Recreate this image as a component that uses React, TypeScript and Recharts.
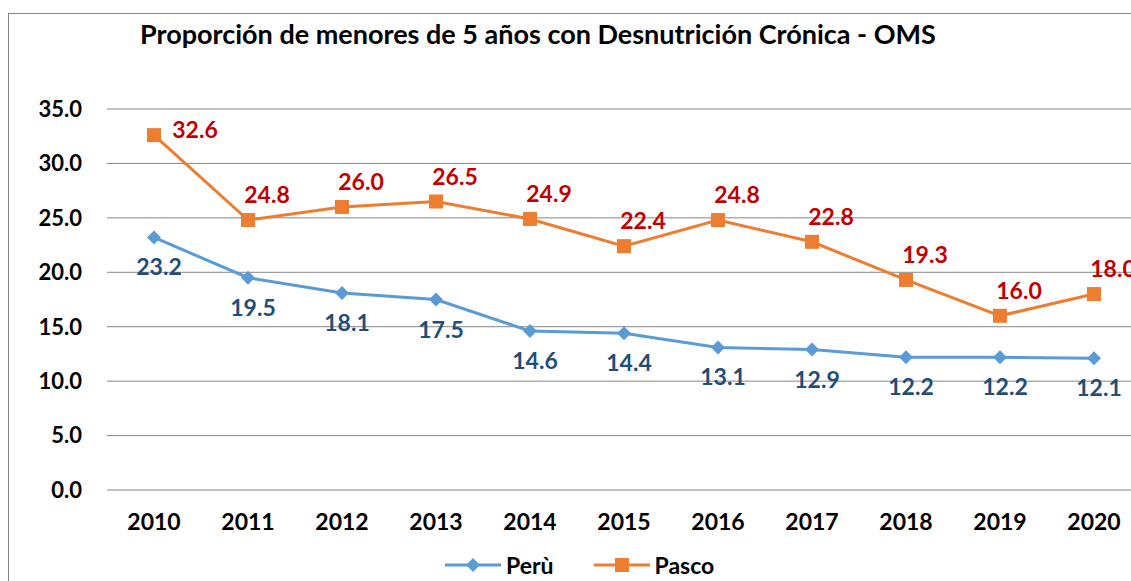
import { CartesianGrid, LabelList, Line, LineChart, XAxis, YAxis } from "recharts";

const years = ["2010", "2011", "2012", "2013", "2014", "2015", "2016", "2017", "2018", "2019", "2020"];
const peru = [23.2, 19.5, 18.1, 17.5, 14.6, 14.4, 13.1, 12.9, 12.2, 12.2, 12.1];
const pasco = [32.6, 24.8, 26.0, 26.5, 24.9, 22.4, 24.8, 22.8, 19.3, 16.0, 18.0];
const yTicks = [0, 5, 10, 15, 20, 25, 30, 35];

const data = years.map((year, i) => ({ year, peru: peru[i], pasco: pasco[i] }));

const FONT = "Lato, 'Open Sans', sans-serif";
const BLUE = "#5B9BD5";
const ORANGE = "#ED7D31";
const GRID = "#868686";

function Diamond(props: any) {
  const { cx, cy } = props;
  if (cx == null || cy == null) return null;
  const r = 7;
  return (
    <polygon
      points={`${cx},${cy - r} ${cx + r},${cy} ${cx},${cy + r} ${cx - r},${cy}`}
      fill={BLUE}
    />
  );
}

function Square(props: any) {
  const { cx, cy } = props;
  if (cx == null || cy == null) return null;
  return <rect x={cx - 7} y={cy - 7} width={14} height={14} fill={ORANGE} />;
}

function makeLabel(color: string, dx: number, dy: number) {
  return (props: any) => {
    const { x, y, value, index } = props;
    // first Pasco label sits to the right of its marker
    const ox = color === "#C00000" && index === 0 ? 41 : dx;
    const oy = color === "#C00000" && index === 0 ? -6 : dy;
    return (
      <text
        x={x + ox}
        y={y + oy}
        textAnchor="middle"
        dominantBaseline="central"
        fill={color}
        fontFamily={FONT}
        fontWeight={700}
        fontSize={23}
      >
        {Number(value).toFixed(1)}
      </text>
    );
  };
}

function LegendItem({ color, label, square }: { color: string; label: string; square?: boolean }) {
  return (
    <div style={{ display: "flex", alignItems: "center", marginRight: 40 }}>
      <svg width={56} height={16}>
        <line x1={0} y1={8} x2={56} y2={8} stroke={color} strokeWidth={3} />
        {square ? (
          <rect x={21} y={1} width={14} height={14} fill={color} />
        ) : (
          <polygon points="28,1 35,8 28,15 21,8" fill={color} />
        )}
      </svg>
      <span style={{ marginLeft: 5, fontFamily: FONT, fontWeight: 700, fontSize: 23, color: "#000" }}>
        {label}
      </span>
    </div>
  );
}

export default function App() {
  return (
    <div style={{ position: "fixed", left: 0, top: 0, width: 1131, height: 581, overflow: "hidden", background: "#fff" }}>
      <div
        style={{
          position: "absolute",
          left: 8,
          top: 13,
          width: 1200,
          height: 700,
          borderLeft: `1px solid ${GRID}`,
          borderTop: `1px solid ${GRID}`,
        }}
      />
      <div
        style={{
          position: "absolute",
          left: 140,
          top: 18,
          fontFamily: FONT,
          fontWeight: 700,
          fontSize: 27,
          lineHeight: "32px",
          color: "#000",
          whiteSpace: "nowrap",
        }}
      >
        Proporción de menores de 5 años con Desnutrición Crónica - OMS
      </div>
      <div style={{ position: "absolute", left: 0, top: 0 }}>
        <LineChart width={1200} height={581} data={data} margin={{ top: 109, right: 59, left: 0, bottom: 31 }}>
          <CartesianGrid vertical={false} stroke={GRID} strokeWidth={1} />
          <XAxis
            dataKey="year"
            height={60}
            padding={{ left: 47, right: 47 }}
            axisLine={false}
            tickLine={false}
            tickSize={0}
            tickMargin={24}
            tick={{ fill: "#000", fontFamily: FONT, fontWeight: 700, fontSize: 23 }}
          />
          <YAxis
            width={107}
            domain={[0, 35]}
            ticks={yTicks}
            axisLine={false}
            tickLine={false}
            tickSize={0}
            tickMargin={25}
            tickFormatter={(v: number) => v.toFixed(1)}
            tick={{ fill: "#000", fontFamily: FONT, fontWeight: 700, fontSize: 22 }}
          />
          <Line
            dataKey="peru"
            stroke={BLUE}
            strokeWidth={3}
            dot={<Diamond />}
            activeDot={false}
            isAnimationActive={false}
          >
            <LabelList dataKey="peru" content={makeLabel("#1F4E79", 5, 29)} />
          </Line>
          <Line
            dataKey="pasco"
            stroke={ORANGE}
            strokeWidth={3}
            dot={<Square />}
            activeDot={false}
            isAnimationActive={false}
          >
            <LabelList dataKey="pasco" content={makeLabel("#C00000", 19, -26)} />
          </Line>
        </LineChart>
      </div>
      <div style={{ position: "absolute", left: 445, top: 551, display: "flex", alignItems: "center" }}>
        <LegendItem color={BLUE} label="Perù" />
        <LegendItem color={ORANGE} label="Pasco" square />
      </div>
    </div>
  );
}
